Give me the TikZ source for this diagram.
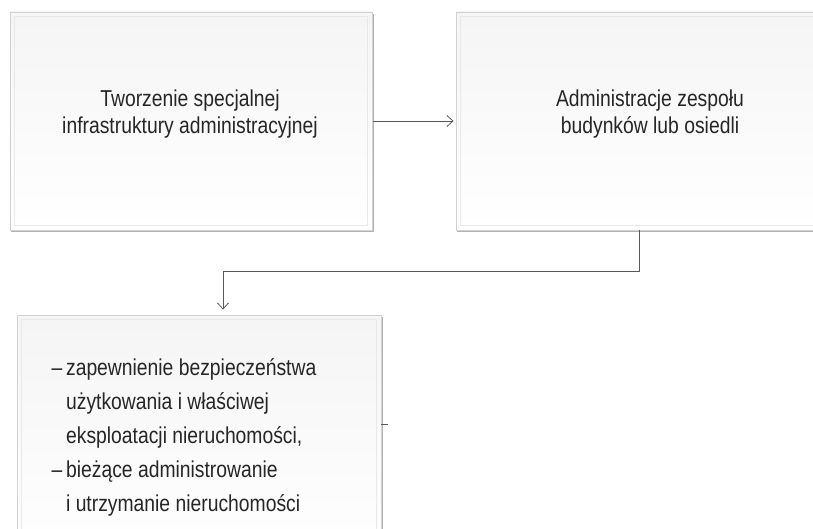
\documentclass[tikz,border=0pt]{standalone}
\usepackage{fontspec}
\setmainfont{Liberation Sans}[FakeStretch=0.84]
\usetikzlibrary{calc, arrows.meta}

\tikzset{
	panel/.style={rectangle, draw=gray!35, line width=0.9pt, inner sep=0pt,
		top color=gray!8, middle color=gray!3, bottom color=white},
	boxtext/.style={font=\fontsize{23}{27}\selectfont, align=center, text=black!85},
	listtext/.style={font=\fontsize{23}{34}\selectfont, align=left, text=black!85},
	conn/.style={draw=black!65, line width=0.8pt}
}

\begin{document}
\begin{tikzpicture}[x=1pt, y=-1pt]
	\def\W{813};
	\def\H{529};

	\useasboundingbox (0,0) rectangle (\W,\H);
	\clip (0,0) rectangle (\W,\H);

	\node [panel, minimum width=362pt, minimum height=218pt] (infra) at (191,121) {};
	\node [panel, minimum width=366pt, minimum height=218pt] (osiedla) at (639,121) {};
	\node [panel, minimum width=364pt, minimum height=244pt] (zadania) at (199,437) {};

	\foreach \b in {infra, osiedla, zadania}
	{
		\draw [gray!18, line width=0.8pt] ($(\b.north west)+(5,5)$) rectangle ($(\b.south east)+(-5,-5)$);
		\draw [gray!60, line width=1.2pt] ($(\b.south west)+(1,1)$) -- ($(\b.south east)+(1,1)$) -- ($(\b.north east)+(1,2)$);
	}

	\node [boxtext] (infraText) at (190,114) {Tworzenie specjalnej\\infrastruktury administracyjnej};
	\node [boxtext] (osiedlaText) at (650,114) {Administracje zespołu\\budynków lub osiedli};
	\node [listtext, anchor=west] (zadaniaText) at (48,437)
		{\begin{tabular}{@{}l@{\,}l@{}}
			– & zapewnienie bezpieczeństwa\\
			  & użytkowania i właściwej\\
			  & eksploatacji nieruchomości,\\
			– & bieżące administrowanie\\
			  & i utrzymanie nieruchomości
		\end{tabular}};

	\coordinate (zgiecie) at (223,271);

	\begin{scope}[conn, -{Straight Barb[length=6pt, width=11pt]}]
		\draw [shorten <=1pt, shorten >=2pt] (infra.east) -- (infra.east -| osiedla.west);
		\draw [shorten >=5pt] (osiedla.south) |- (zgiecie) -- (zgiecie |- zadania.north);
	\end{scope}

	\draw [conn] (zadania.east |- 0,424) -- ++(7,0);

\end{tikzpicture}
\end{document}
